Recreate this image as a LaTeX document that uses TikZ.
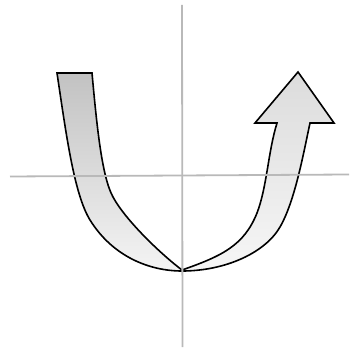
\documentclass[tikz,border=0pt]{standalone}
\begin{document}
\begin{tikzpicture}[x=1pt,y=-1pt,
  outline/.style={draw=black,line width=1.6pt,line join=miter},
  axis/.style={draw=gray!55,line width=1.8pt}]
\useasboundingbox (0,0) rectangle (349,352);
\definecolor{bandtop}{HTML}{C2C2C2}
\definecolor{bandlow}{HTML}{F4F4F4}
\definecolor{arrowtop}{HTML}{DCDCDC}
\definecolor{arrowlow}{HTML}{F6F6F6}
% left band: outer edge down, inner edge back up
\def\leftband{(57,73) .. controls (66,133) and (74,194) .. (90,220)
  .. controls (113,257) and (150,271) .. (182,271)
  -- (182,270) .. controls (162,255) and (126,221) .. (113,197)
  .. controls (102,177) and (97,128) .. (92,73) -- cycle}
% right band with arrow head
\def\rightband{(182,271) .. controls (225,271) and (265,253) .. (280,227)
  .. controls (295,201) and (303.5,153) .. (310,123)
  -- (334,123) -- (298,72) -- (255,123) -- (277,123)
  .. controls (268,152) and (267,187) .. (257,213)
  .. controls (244,245.5) and (222,256) .. (182,270) -- cycle}
\shade[top color=bandtop,bottom color=bandlow] \leftband;
\shade[top color=arrowtop,bottom color=arrowlow] \rightband;
\draw[outline] \leftband;
\draw[outline] \rightband;
% axes
\coordinate (hl) at (10,176.5);
\coordinate (hr) at (349,174.5);
\coordinate (vt) at (182,5);
\coordinate (vb) at (182.5,347);
\draw[axis] (hl) -- (hr);
\draw[axis] (vt) -- (vb);
\end{tikzpicture}
\end{document}
